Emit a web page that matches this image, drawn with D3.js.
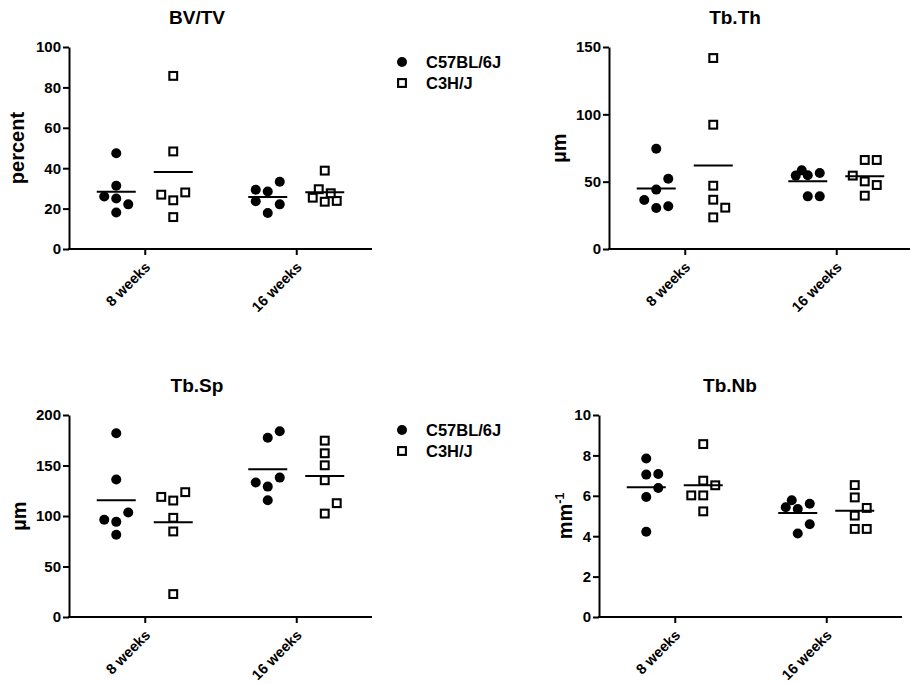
<!DOCTYPE html>
<html><head><meta charset="utf-8">
<script src="https://cdn.jsdelivr.net/npm/d3@7"></script>
<style>
body{margin:0;background:#fff}
text{font-family:"Liberation Sans",Arial,sans-serif;font-weight:bold;fill:#000}
</style>
</head><body>
<svg id="chart" width="910" height="684"></svg>
<script>
// ---------- data ----------
const categories = ["8 weeks", "16 weeks"];
const strains = ["C57BL/6J", "C3H/J"];
const panelTitles = ["BV/TV", "Tb.Th", "Tb.Sp", "Tb.Nb"];
const yLabels = ["percent", "µm", "µm", "mm"];
const yLabelSup = ["", "", "", "-1"];
const yMax = [100, 150, 200, 10];
const yTicks = [[0, 20, 40, 60, 80, 100], [0, 50, 100, 150], [0, 50, 100, 150, 200], [0, 2, 4, 6, 8, 10]];

const bvtvC57 = [[47.4, 25.0, 18.1, 22.1, 26.0, 31.3], [28.5, 17.8, 33.3, 22.1, 29.3, 23.6]];
const bvtvC3H = [[85.7, 48.3, 24.1, 15.8, 28.0, 26.9], [38.8, 23.4, 23.8, 25.4, 27.6, 29.6]];
const tbthC57 = [[74.5, 44.1, 30.4, 31.7, 36.4, 52.2], [54.7, 39.1, 56.4, 54.5, 58.4, 39.1]];
const tbthC3H = [[141.8, 92.3, 47.0, 36.6, 23.5, 30.7], [66.1, 50.2, 39.6, 66.1, 47.5, 54.5]];
const tbspC57 = [[181.9, 136.1, 94.2, 81.4, 103.5, 96.2], [177.5, 183.9, 129.1, 115.6, 138.0, 133.1]];
const tbspC3H = [[115.3, 98.2, 84.7, 22.7, 123.6, 118.9], [174.6, 150.2, 135.4, 102.4, 162.1, 112.7]];
const tbnbC57 = [[7.85, 7.05, 5.94, 4.22, 7.08, 6.39], [5.35, 4.13, 5.61, 4.59, 5.43, 5.78]];
const tbnbC3H = [[8.56, 6.75, 6.02, 5.23, 6.52, 6.02], [6.53, 5.92, 5.02, 4.36, 4.36, 5.40]];

const panelData = [[bvtvC57, bvtvC3H], [tbthC57, tbthC3H], [tbspC57, tbspC3H], [tbnbC57, tbnbC3H]];

// ---------- layout ----------
const layout = [
  {left: 69, top: 47, labelX: 24, titleX: 197, legend: true},
  {left: 609, top: 47, labelX: 566, titleX: 735, legend: false},
  {left: 69, top: 415, labelX: 26, titleX: 197, legend: true},
  {left: 599, top: 415, labelX: 572, titleX: 730, legend: false}
];
const W = 303, H = 202;

const svg = d3.select("#chart");

function swarm(values, y) {
  const step = 12, D = 11, cands = [0, 1, -1, 0.5, -0.5];
  const placed = [];
  values.forEach(v => {
    const py = y(v);
    let best = 0, bestD = -1;
    for (const c of cands) {
      const px = c * step;
      let md = Infinity;
      for (const p of placed) md = Math.min(md, Math.hypot(p.dx - px, p.py - py));
      if (md >= D) { best = c; bestD = md; break; }
      if (md > bestD) { bestD = md; best = c; }
    }
    placed.push({v, py, dx: best * step});
  });
  return placed;
}

function drawMarker(sel, strainIdx, cx, cy) {
  if (strainIdx === 0) {
    sel.append("circle").attr("cx", cx).attr("cy", cy).attr("r", 5).attr("fill", "#000");
  } else {
    sel.append("rect").attr("x", cx - 3.9).attr("y", cy - 3.9).attr("width", 7.8).attr("height", 7.8)
      .attr("fill", "#fff").attr("stroke", "#000").attr("stroke-width", 2.1);
  }
}

layout.forEach((L, i) => {
  const g = svg.append("g");
  const x = d3.scalePoint().domain(categories).range([L.left, L.left + W]).padding(0.5);
  const xs = d3.scalePoint().domain(strains).range([-28.5, 28.5]);
  const y = d3.scaleLinear().domain([0, yMax[i]]).range([L.top + H, L.top]);

  // y axis
  const ya = g.append("g").attr("transform", `translate(${L.left},0)`)
    .call(d3.axisLeft(y).tickValues(yTicks[i]).tickSize(6).tickSizeOuter(0).tickPadding(2));
  ya.select(".domain").attr("stroke", "#000").attr("stroke-width", 2);
  ya.selectAll(".tick line").attr("stroke", "#000").attr("stroke-width", 2);
  ya.attr("font-family", null);
  ya.selectAll(".tick text").attr("font-size", 15);

  // x axis
  const xa = g.append("g").attr("transform", `translate(0,${L.top + H})`)
    .call(d3.axisBottom(x).tickSize(6).tickSizeOuter(0));
  xa.select(".domain").attr("d", `M${L.left - 1},0H${L.left + W}`).attr("stroke", "#000").attr("stroke-width", 2.2);
  xa.selectAll(".tick line").attr("stroke", "#000").attr("stroke-width", 2);
  xa.attr("font-family", null);
  xa.selectAll(".tick text")
    .attr("font-size", 14.5)
    .attr("text-anchor", "end")
    .attr("dy", null)
    .attr("y", null)
    .attr("transform", "translate(6,19) rotate(-45)");

  // title
  g.append("text").attr("x", L.titleX).attr("y", L.top - 23).attr("text-anchor", "middle")
    .attr("font-size", 19).text(panelTitles[i]);

  // y label
  const yl = g.append("text")
    .attr("transform", `translate(${L.labelX},${L.top + H / 2}) rotate(-90)`)
    .attr("text-anchor", "middle").attr("font-size", 20).text(yLabels[i]);
  if (yLabelSup[i]) {
    yl.append("tspan").attr("font-size", 12.5).attr("dy", -8).text(yLabelSup[i]);
  }

  // points and means
  categories.forEach((cat, ci) => {
    strains.forEach((st, si) => {
      const vals = panelData[i][si][ci];
      const cx = x(cat) + xs(st);
      const pts = swarm(vals, y);
      const mg = g.append("g");
      pts.forEach(p => drawMarker(mg, si, cx + p.dx, p.py));
      const m = d3.mean(vals);
      g.append("line").attr("x1", cx - 19.5).attr("x2", cx + 19.5)
        .attr("y1", y(m)).attr("y2", y(m)).attr("stroke", "#000").attr("stroke-width", 2);
    });
  });

  // legend
  if (L.legend) {
    strains.forEach((st, si) => {
      const ly = L.top + 15 + si * 21;
      const lg = g.append("g");
      drawMarker(lg, si, L.left + 333, ly);
      lg.append("text").attr("x", L.left + 357).attr("y", ly + 6).attr("font-size", 16.5).text(st);
    });
  }
});
</script>
</body></html>
